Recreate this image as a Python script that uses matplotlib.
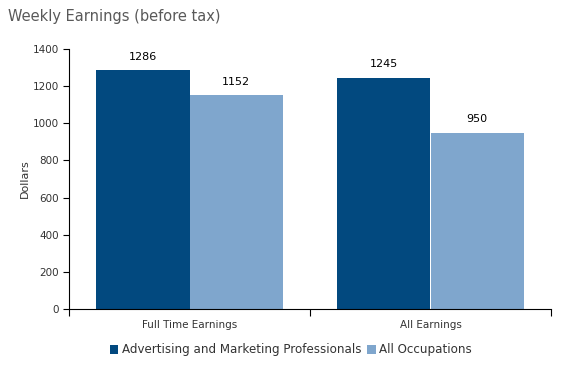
import matplotlib
matplotlib.use("Agg")
import matplotlib.pyplot as plt
import numpy as np

categories = ["Full Time Earnings", "All Earnings"]
series_names = ["Advertising and Marketing Professionals", "All Occupations"]
adv = [1286, 1245]
allocc = [1152, 950]
yticks = [0, 200, 400, 600, 800, 1000, 1200, 1400]

c_dark = "#02497F"
c_light = "#7FA6CD"
txt = "#333333"

fig = plt.figure(figsize=(5.66, 3.65), dpi=100)
ax = fig.add_axes([69/566, 1-309/365, (551-69)/566, (309-49)/365])

x = np.arange(len(categories))
w = 0.386
b1 = ax.bar(x - w/2, adv, w, color=c_dark, label=series_names[0], linewidth=0)
b2 = ax.bar(x + w/2, allocc, w, color=c_light, label=series_names[1], linewidth=0)
for bars, vals in ((b1, adv), (b2, allocc)):
    for r, v in zip(bars, vals):
        ax.text(r.get_x() + r.get_width()/2, v + 45, str(v), ha="center", va="bottom",
                fontsize=8, color="black")

ax.set_xlim(-0.5, len(categories) - 0.5)
ax.set_ylim(0, 1400)
ax.set_yticks(yticks)
ax.set_yticklabels([str(t) for t in yticks], fontsize=7.5, color=txt)
ax.set_xticks(np.arange(len(categories) + 1) - 0.5)
ax.set_xticklabels([])
ax.set_xticks(x, minor=True)
ax.set_xticklabels(categories, minor=True, fontsize=7.5, color=txt)
ax.tick_params(axis="x", which="minor", length=0, pad=8)
ax.tick_params(axis="x", which="major", length=5, direction="out", color="black")
ax.tick_params(axis="y", length=4, direction="out", pad=3)
for s in ("top", "right"):
    ax.spines[s].set_visible(False)
ax.set_ylabel("Dollars", fontsize=8, color=txt, labelpad=2)

fig.text(8/566, 1-16/365, "Weekly Earnings (before tax)", fontsize=10.5, color="#595959",
         ha="left", va="center")

fig.legend(handles=[b1, b2], loc="center", bbox_to_anchor=(0.514, 1-350/365), ncol=2,
           frameon=False, fontsize=8.6, handlelength=0.7, handleheight=0.7,
           handletextpad=0.3, columnspacing=0.5, labelcolor=txt)

fig.savefig("out.png", dpi=100)
